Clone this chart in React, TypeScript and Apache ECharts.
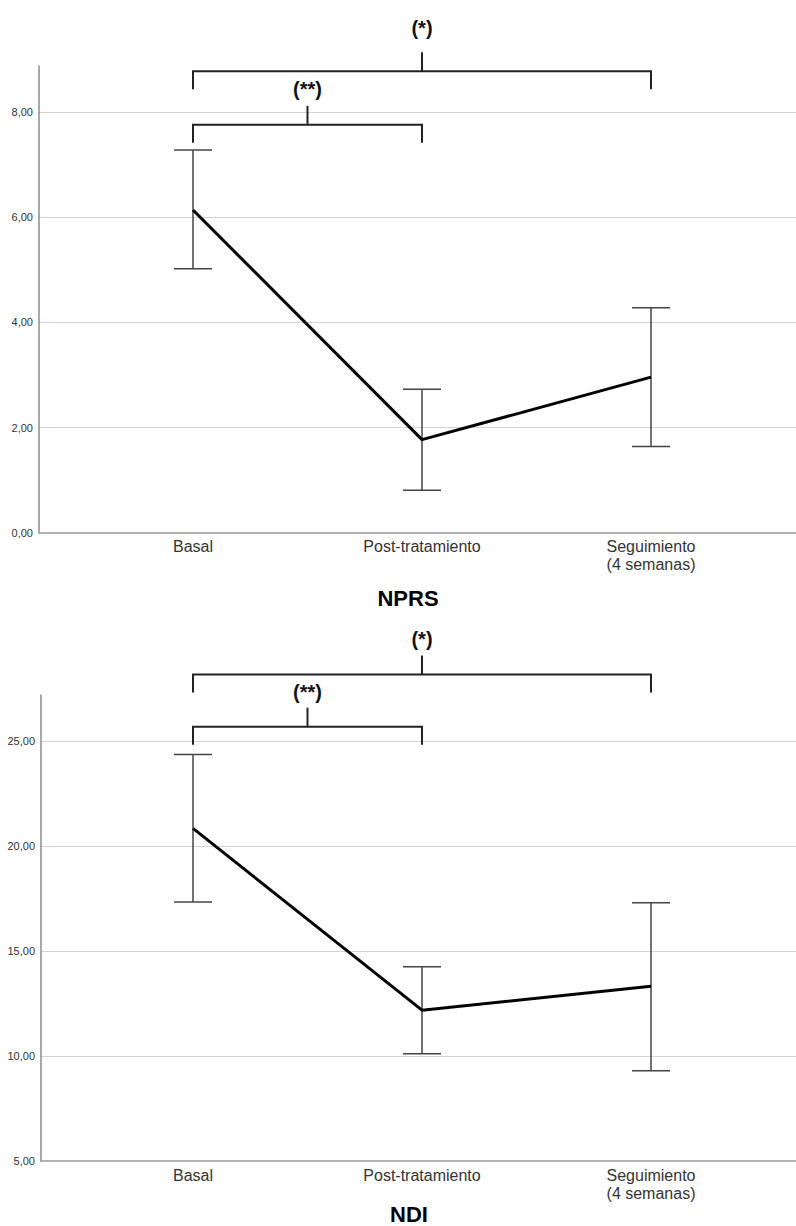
import React, { useEffect, useRef } from 'react';
import * as echarts from 'echarts';

const categories = ['Basal', 'Post-tratamiento', 'Seguimiento\n(4 semanas)'];

const nprsMean = [6.14, 1.77, 2.96];
const nprsLow = [5.02, 0.81, 1.64];
const nprsHigh = [7.28, 2.73, 4.28];

const ndiMean = [20.83, 12.18, 13.32];
const ndiLow = [17.33, 10.11, 9.3];
const ndiHigh = [24.35, 14.24, 17.29];

// [fromCategory, toCategory, bracketLevel, labelLevel]
const nprsBrackets = [
  [0, 2, 8.78, 9.6],
  [0, 1, 7.76, 8.44],
];
const nprsBracketLabels = ['(*)', '(**)'];
const ndiBrackets = [
  [0, 2, 28.16, 29.84],
  [0, 1, 25.67, 27.33],
];
const ndiBracketLabels = ['(*)', '(**)'];

const titles = ['NPRS', 'NDI'];

const FONT = "'Liberation Sans', Arial, Helvetica, sans-serif";

const fmt = (v: number) => v.toFixed(2).replace('.', ',');

export default function App() {
  const ref = useRef<HTMLDivElement>(null);

  useEffect(() => {
    if (!ref.current) return;
    const chart = echarts.init(ref.current, null, { renderer: 'svg' });

    const makeX = (gridIndex: number, min: number, max: number) => ({
      type: 'value',
      gridIndex,
      min,
      max,
      axisLine: { show: true, onZero: false, lineStyle: { color: '#999', width: 1.5 } },
      axisTick: { show: false },
      splitLine: { show: false },
      axisLabel: {
        customValues: [0, 1, 2],
        formatter: (v: number) => categories[Math.round(v)] ?? '',
        fontFamily: FONT,
        fontSize: 16,
        lineHeight: 18,
        color: '#333',
        margin: 5,
      },
    });

    const makeY = (gridIndex: number, min: number, max: number, interval: number) => ({
      type: 'value',
      gridIndex,
      min,
      max,
      interval,
      axisLine: { show: true, onZero: false, lineStyle: { color: '#8c8c8c', width: 1.5 } },
      axisTick: { show: false },
      splitLine: {
        show: true,
        showMinLine: false,
        showMaxLine: false,
        lineStyle: { color: '#d2d2d2', width: 1 },
      },
      axisLabel: {
        showMaxLabel: false,
        formatter: (v: number) => fmt(v),
        fontFamily: FONT,
        fontSize: 11,
        color: '#333',
        margin: 6,
      },
    });

    const errorSeries = (idx: number, low: number[], high: number[]) => ({
      type: 'custom',
      xAxisIndex: idx,
      yAxisIndex: idx,
      clip: false,
      encode: { x: 0, y: [1, 2] },
      data: low.map((l, i) => [i, l, high[i]]),
      renderItem: (_p: any, api: any) => {
        const x = api.value(0);
        const lo = api.coord([x, api.value(1)]);
        const hi = api.coord([x, api.value(2)]);
        const half = 19;
        const style = { stroke: '#444', lineWidth: 1.5 };
        return {
          type: 'group',
          children: [
            { type: 'line', shape: { x1: lo[0], y1: lo[1], x2: hi[0], y2: hi[1] }, style },
            { type: 'line', shape: { x1: lo[0] - half, y1: lo[1], x2: lo[0] + half, y2: lo[1] }, style },
            { type: 'line', shape: { x1: hi[0] - half, y1: hi[1], x2: hi[0] + half, y2: hi[1] }, style },
          ],
        };
      },
      z: 3,
    });

    const meanSeries = (idx: number, mean: number[]) => ({
      type: 'line',
      xAxisIndex: idx,
      yAxisIndex: idx,
      data: mean.map((m, i) => [i, m]),
      symbol: 'none',
      lineStyle: { color: '#000', width: 3 },
      z: 4,
    });

    const bracketSeries = (idx: number, brackets: number[][], labels: string[]) => ({
      type: 'custom',
      xAxisIndex: idx,
      yAxisIndex: idx,
      clip: false,
      data: brackets,
      renderItem: (params: any, api: any) => {
        const a = api.value(0);
        const b = api.value(1);
        const lvl = api.value(2);
        const lab = api.value(3);
        const p0 = api.coord([a, lvl]);
        const p1 = api.coord([b, lvl]);
        const pm = api.coord([(a + b) / 2, lab]);
        const mx = (p0[0] + p1[0]) / 2;
        const style = { stroke: '#222', lineWidth: 2, fill: null };
        return {
          type: 'group',
          children: [
            {
              type: 'polyline',
              shape: {
                points: [
                  [p0[0], p0[1] + 18],
                  [p0[0], p0[1]],
                  [p1[0], p1[1]],
                  [p1[0], p1[1] + 18],
                ],
              },
              style,
            },
            { type: 'line', shape: { x1: mx, y1: p0[1], x2: mx, y2: p0[1] - 19 }, style },
            {
              type: 'text',
              x: pm[0],
              y: pm[1],
              style: {
                text: labels[params.dataIndex],
                fontFamily: FONT,
                fontSize: 20,
                fontWeight: 'bold',
                fill: '#111',
                align: 'center',
                verticalAlign: 'middle',
              },
            },
          ],
        };
      },
      z: 5,
    });

    chart.setOption({
      animation: false,
      backgroundColor: '#fff',
      grid: [
        { left: 39, top: 66, width: 757, height: 466.7 },
        { left: 41, top: 695, width: 755, height: 466 },
      ],
      xAxis: [
        makeX(0, (39 - 193) / 229, (796 - 193) / 229),
        makeX(1, (41 - 193) / 229, (796 - 193) / 229),
      ],
      yAxis: [makeY(0, 0, 8.88, 2), makeY(1, 5, 27.18, 5)],
      graphic: [
        {
          type: 'text',
          x: 408,
          y: 598,
          style: {
            text: titles[0],
            fontFamily: FONT,
            fontSize: 22,
            fontWeight: 'bold',
            fill: '#000',
            align: 'center',
            verticalAlign: 'middle',
          },
        },
        {
          type: 'text',
          x: 409,
          y: 1214,
          style: {
            text: titles[1],
            fontFamily: FONT,
            fontSize: 22,
            fontWeight: 'bold',
            fill: '#000',
            align: 'center',
            verticalAlign: 'middle',
          },
        },
      ],
      series: [
        errorSeries(0, nprsLow, nprsHigh),
        meanSeries(0, nprsMean),
        bracketSeries(0, nprsBrackets, nprsBracketLabels),
        errorSeries(1, ndiLow, ndiHigh),
        meanSeries(1, ndiMean),
        bracketSeries(1, ndiBrackets, ndiBracketLabels),
      ],
    });

    return () => chart.dispose();
  }, []);

  return (
    <div
      ref={ref}
      style={{ position: 'absolute', left: 0, top: 0, width: 796, height: 1226 }}
    />
  );
}
